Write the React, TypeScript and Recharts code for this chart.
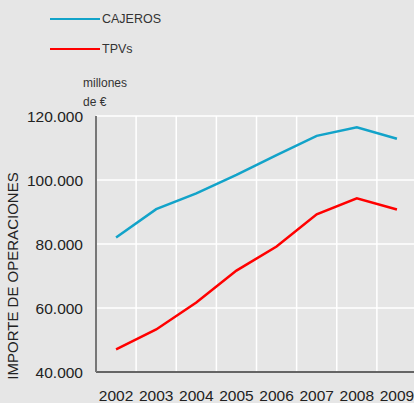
import { LineChart, Line, XAxis, YAxis, CartesianGrid } from 'recharts';

const years = ["2002", "2003", "2004", "2005", "2006", "2007", "2008", "2009"];
const cajeros = [82000, 90900, 95800, 101600, 107800, 113800, 116500, 112900];
const tpvs = [47100, 53300, 61700, 71700, 79200, 89300, 94300, 90800];
const yTicks = [40000, 60000, 80000, 100000, 120000];
const gridTicks = [0.5, 1.5, 2.5, 3.5, 4.5, 5.5, 6.5];

const data = years.map((y, i) => ({ idx: i, year: y, cajeros: cajeros[i], tpvs: tpvs[i] }));

const BLUE = "#12a3c9";
const RED = "#ff0000";
const FONT = "'Liberation Sans', Arial, sans-serif";

const fmt = (v: number) => v.toLocaleString("de-DE", { minimumFractionDigits: 0 }).replace(/(\d)(\d{3})$/, "$1.$2");

export default function App() {
  const legendItem = (color: string, label: string, top: number) => (
    <div style={{ position: "absolute", left: 50, top, display: "flex", alignItems: "center" }}>
      <div style={{ width: 50, height: 2, background: color }} />
      <span style={{ fontSize: 12.5, color: "#333", marginLeft: 2, lineHeight: "14px" }}>{label}</span>
    </div>
  );

  return (
    <div style={{ position: "fixed", left: 0, top: 0, width: 414, height: 403, background: "#e6e6e6", overflow: "hidden", fontFamily: FONT }}>
      {legendItem(BLUE, "CAJEROS", 12)}
      {legendItem(RED, "TPVs", 42)}
      <div style={{ position: "absolute", left: 83, top: 74, fontSize: 12, color: "#333", lineHeight: "19px" }}>
        millones<br />de €
      </div>
      <div style={{ position: "absolute", left: 0, top: 0 }}>
        <LineChart width={420} height={403} data={data} margin={{ top: 116, right: 3, bottom: 0, left: 0 }}>
          <XAxis xAxisId="g" type="number" dataKey="idx" domain={[-0.5, 7.5]} ticks={gridTicks} hide />
          <CartesianGrid xAxisId="g" stroke="#ffffff" strokeWidth={1.5} />
          <XAxis
            dataKey="idx"
            type="number"
            domain={[-0.5, 7.5]}
            ticks={[0, 1, 2, 3, 4, 5, 6, 7]}
            tickFormatter={(v) => years[v]}
            height={31}
            tickLine={false}
            tickSize={0}
            tickMargin={18}
            axisLine={{ stroke: "#333", strokeWidth: 1.5 }}
            tick={{ fontSize: 15.5, fill: "#222", fontFamily: FONT }}
            interval={0}
          />
          <YAxis
            domain={[40000, 120000]}
            ticks={yTicks}
            tickFormatter={fmt}
            width={96}
            tickLine={false}
            tickSize={0}
            tickMargin={13}
            axisLine={{ stroke: "#777", strokeWidth: 2 }}
            tick={{ fontSize: 15.5, fill: "#222", fontFamily: FONT }}
            label={{
              content: () => (
                <text
                  x={18}
                  y={276}
                  transform="rotate(-90, 18, 276)"
                  textAnchor="middle"
                  fontSize={15}
                  fill="#222"
                  fontFamily={FONT}
                >
                  IMPORTE DE OPERACIONES
                </text>
              ),
            }}
          />
          <Line dataKey="cajeros" stroke={BLUE} strokeWidth={2.5} dot={false} isAnimationActive={false} />
          <Line dataKey="tpvs" stroke={RED} strokeWidth={2.5} dot={false} isAnimationActive={false} />
        </LineChart>
      </div>
    </div>
  );
}
